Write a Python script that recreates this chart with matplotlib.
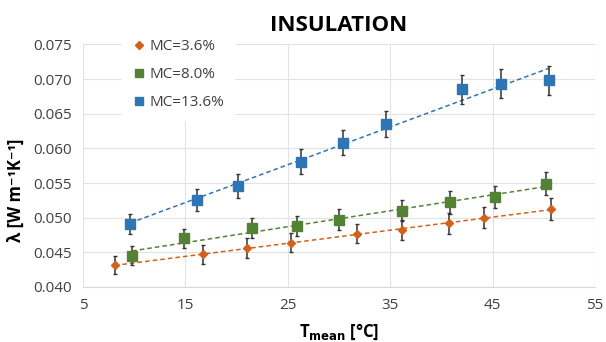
import numpy as np
import matplotlib
matplotlib.use("Agg")
import matplotlib.pyplot as plt

plt.rcParams['font.family'] = ['Open Sans', 'DejaVu Sans']

# MC = 3.6 %
t_36 = [8.1, 16.7, 21.0, 25.3, 31.8, 36.1, 40.7, 44.2, 50.7]
lam_36 = [0.0431, 0.0447, 0.0456, 0.0464, 0.0477, 0.0482, 0.0492, 0.0500, 0.0512]
err_36 = [0.0013, 0.0014, 0.0014, 0.0014, 0.0014, 0.0014, 0.0015, 0.0015, 0.0016]

# MC = 8.0 %
t_80 = [9.8, 14.9, 21.5, 25.9, 30.0, 36.1, 40.8, 45.2, 50.2]
lam_80 = [0.0445, 0.0470, 0.0485, 0.0488, 0.0497, 0.0510, 0.0522, 0.0530, 0.0549]
err_80 = [0.0014, 0.0014, 0.0015, 0.0015, 0.0015, 0.0015, 0.0016, 0.0016, 0.0017]

# MC = 13.6 %
t_136 = [9.6, 16.1, 20.1, 26.3, 30.4, 34.6, 42.0, 45.8, 50.5]
lam_136 = [0.0491, 0.0526, 0.0546, 0.0581, 0.0608, 0.0635, 0.0685, 0.0693, 0.0698]
err_136 = [0.0015, 0.0016, 0.0017, 0.0018, 0.0018, 0.0019, 0.0021, 0.0021, 0.0021]

series = [
    ("MC=3.6%", t_36, lam_36, err_36, "#d2611a", "D", 4.5),
    ("MC=8.0%", t_80, lam_80, err_80, "#548235", "s", 6.5),
    ("MC=13.6%", t_136, lam_136, err_136, "#2e75b6", "s", 7),
]

fig = plt.figure(figsize=(6.06, 3.42), dpi=100)
ax = fig.add_axes([0.137, 0.161, 0.845, 0.709])

for label, t, lam, err, color, marker, ms in series:
    # linear trend line like the Excel one
    m, q = np.polyfit(t, lam, 1)
    xs = np.array([min(t), max(t)])
    ax.plot(xs, m * xs + q, linestyle=(0, (3, 2)), color=color, lw=1.1, zorder=2)
    ax.errorbar(t, lam, yerr=err, fmt='none', ecolor='#333333', elinewidth=1.1,
                capsize=1.5, capthick=1, zorder=3)
    ax.plot(t, lam, linestyle='none', marker=marker, markersize=ms, color=color,
            label=label, zorder=4)

ax.set_xlim(5, 55)
ax.set_ylim(0.040, 0.075)
ax.set_xticks(range(5, 56, 10))
ax.set_yticks(np.arange(0.040, 0.0751, 0.005))
ax.yaxis.set_major_formatter(matplotlib.ticker.FormatStrFormatter('%.3f'))
ax.grid(True, color='#e3e3e3', lw=0.8)
ax.set_axisbelow(True)
for s in ax.spines.values():
    s.set_visible(False)
ax.spines['bottom'].set_visible(True)
ax.spines['bottom'].set_color('#d9d9d9')
ax.tick_params(length=0, labelsize=11, colors='#404040', pad=8)

ax.set_xlabel(r'T$_{\mathbf{mean}}$ [°C]', fontsize=12, fontweight='bold', labelpad=6)
ax.set_ylabel('λ [W m⁻¹K⁻¹]', fontsize=12, fontweight='bold', labelpad=6)
ax.yaxis.label.set_y(0.40)
ax.set_title('INSULATION', fontsize=16, fontweight='bold', pad=10)

leg = ax.legend(loc='upper left', bbox_to_anchor=(0.062, 1.09), frameon=True,
                fontsize=11, handletextpad=0.2, labelspacing=0.85, borderpad=0.6,
                handlelength=1.0, markerscale=0.9)
leg.get_frame().set_edgecolor('white')
leg.get_frame().set_facecolor('white')
leg.get_frame().set_alpha(1)
for t in leg.get_texts():
    t.set_color('#404040')

fig.savefig('out.png', dpi=100)
